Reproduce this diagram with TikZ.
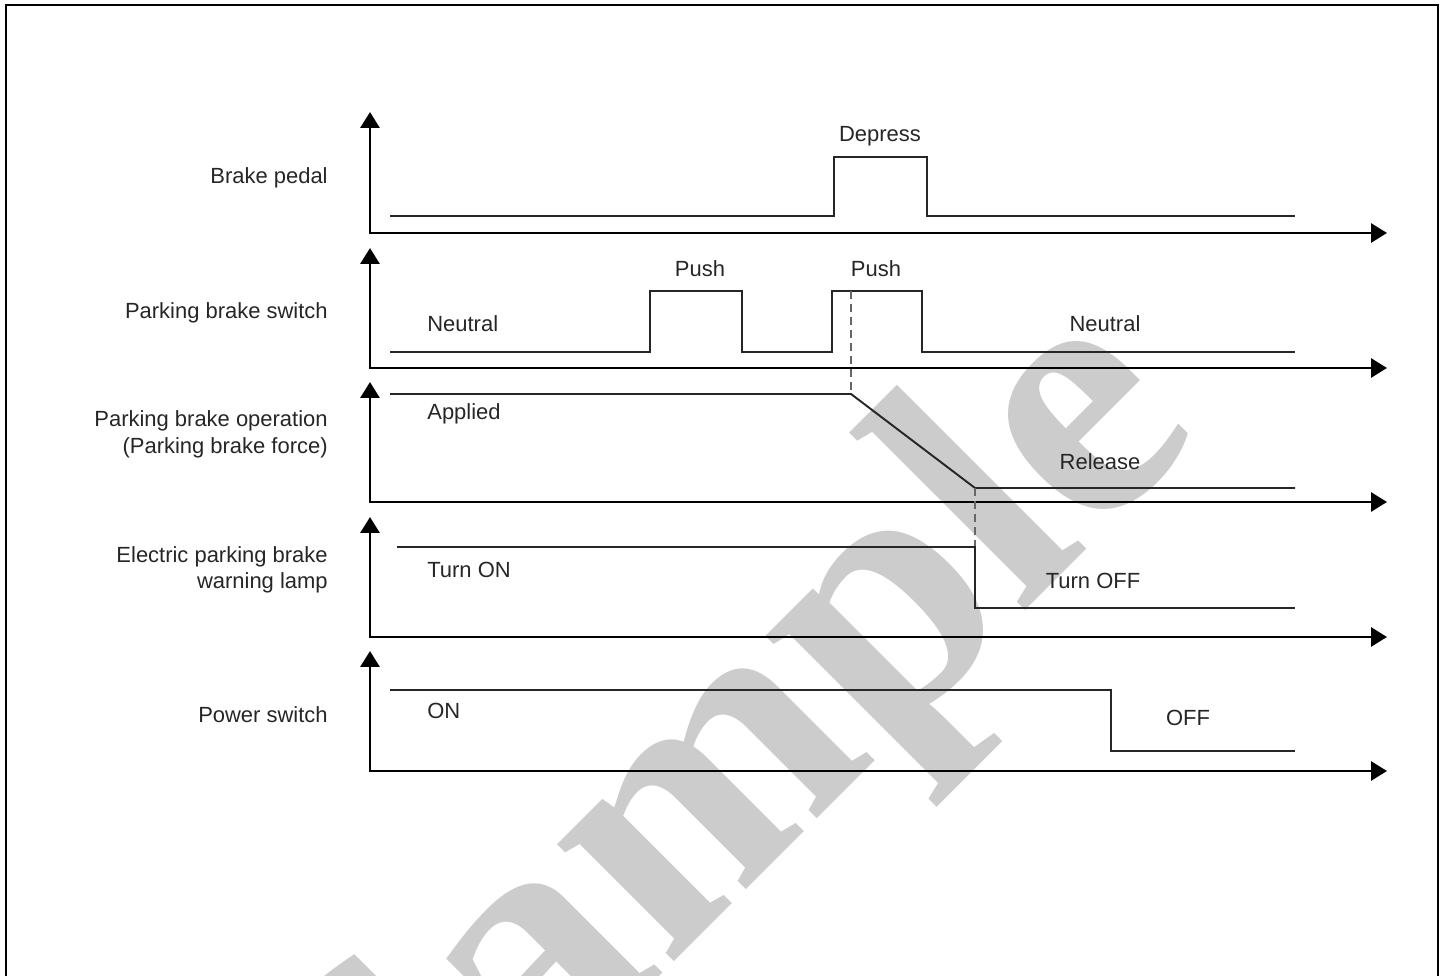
\documentclass[tikz,border=0pt]{standalone}
\usepackage{fontspec}
\setmainfont{Liberation Sans}
\newfontfamily\wmfont{Liberation Serif}
\usetikzlibrary{arrows.meta}
\begin{document}
\begin{tikzpicture}[x=0.02cm,y=-0.02cm,
  axisline/.style={line width=1.7pt, line join=miter,
    {Triangle[length=0.32cm,width=0.38cm]}-{Triangle[length=0.32cm,width=0.38cm]}},
  sig/.style={line width=1.1pt, line join=miter, black!85},
  dashline/.style={line width=0.8pt, black!60, dash pattern=on 0.16cm off 0.1cm},
  lbl/.style={font=\fontsize{12.5}{14}\selectfont, text=black!85, inner sep=0pt},
  wm/.style={font=\wmfont\bfseries\fontsize{205}{205}\selectfont, text=black!20, inner sep=0pt}]
\useasboundingbox (0,0) rectangle (1448,976);
% watermark
\begin{scope}
\clip (0,0) rectangle (1448,976);
\node[wm, anchor=base west, rotate=45] (wmark) at (398,1238) {Sample};
\end{scope}
% frame
\draw[line width=1.4pt] (6,995) -- (6,5) -- (1438,5) -- (1438,995);
% axes
\foreach \yo/\yt [count=\i] in {233/112, 368/248, 502/382, 637/517, 771/651} {
  \coordinate (top\i) at (370,\yt);
  \coordinate (org\i) at (370,\yo);
  \coordinate (end\i) at (1387,\yo);
  \draw[axisline] (top\i) -- (org\i) -- (end\i);
}
% signals
\draw[sig] (390,216) -- (834,216) -- (834,157) -- (927,157) -- (927,216) -- (1295,216);
\draw[sig] (390,352) -- (650,352) -- (650,291) -- (742,291) -- (742,352) -- (832,352) -- (832,291) -- (922,291) -- (922,352) -- (1295,352);
\coordinate (d1a) at (851,291);
\coordinate (d1b) at (851,394);
\coordinate (d2a) at (975,488);
\coordinate (d2b) at (975,547);
\draw[dashline] (d1a) -- (d1b);
\draw[sig] (390,394) -- (d1b) -- (d2a) -- (1295,488);
\draw[dashline] (d2a) -- (d2b);
\draw[sig] (397,547) -- (d2b) -- (975,608) -- (1295,608);
\draw[sig] (390,690) -- (1111,690) -- (1111,751) -- (1295,751);
% left labels
\node[lbl, anchor=base east] (l1) at (328,184) {Brake pedal};
\node[lbl, anchor=base east] (l2) at (328,319) {Parking brake switch};
\node[lbl, anchor=base east] (l3a) at (328,427) {Parking brake operation};
\node[lbl, anchor=base east] (l3b) at (328,454) {(Parking brake force)};
\node[lbl, anchor=base east] (l4a) at (328,562) {Electric parking brake};
\node[lbl, anchor=base east] (l4b) at (328,589) {warning lamp};
\node[lbl, anchor=base east] (l5) at (328,722) {Power switch};
% signal labels
\node[lbl, anchor=base] (t1) at (880,142) {Depress};
\node[lbl, anchor=base] (t2) at (700,277) {Push};
\node[lbl, anchor=base] (t3) at (876,277) {Push};
\node[lbl, anchor=base west] (t4) at (427,332) {Neutral};
\node[lbl, anchor=base] (t5) at (1105,332) {Neutral};
\node[lbl, anchor=base west] (t6) at (427,420) {Applied};
\node[lbl, anchor=base] (t7) at (1100,470) {Release};
\node[lbl, anchor=base west] (t8) at (427,578) {Turn ON};
\node[lbl, anchor=base] (t9) at (1093,589) {Turn OFF};
\node[lbl, anchor=base west] (t10) at (427,718) {ON};
\node[lbl, anchor=base] (t11) at (1188,725) {OFF};
\end{tikzpicture}
\end{document}
